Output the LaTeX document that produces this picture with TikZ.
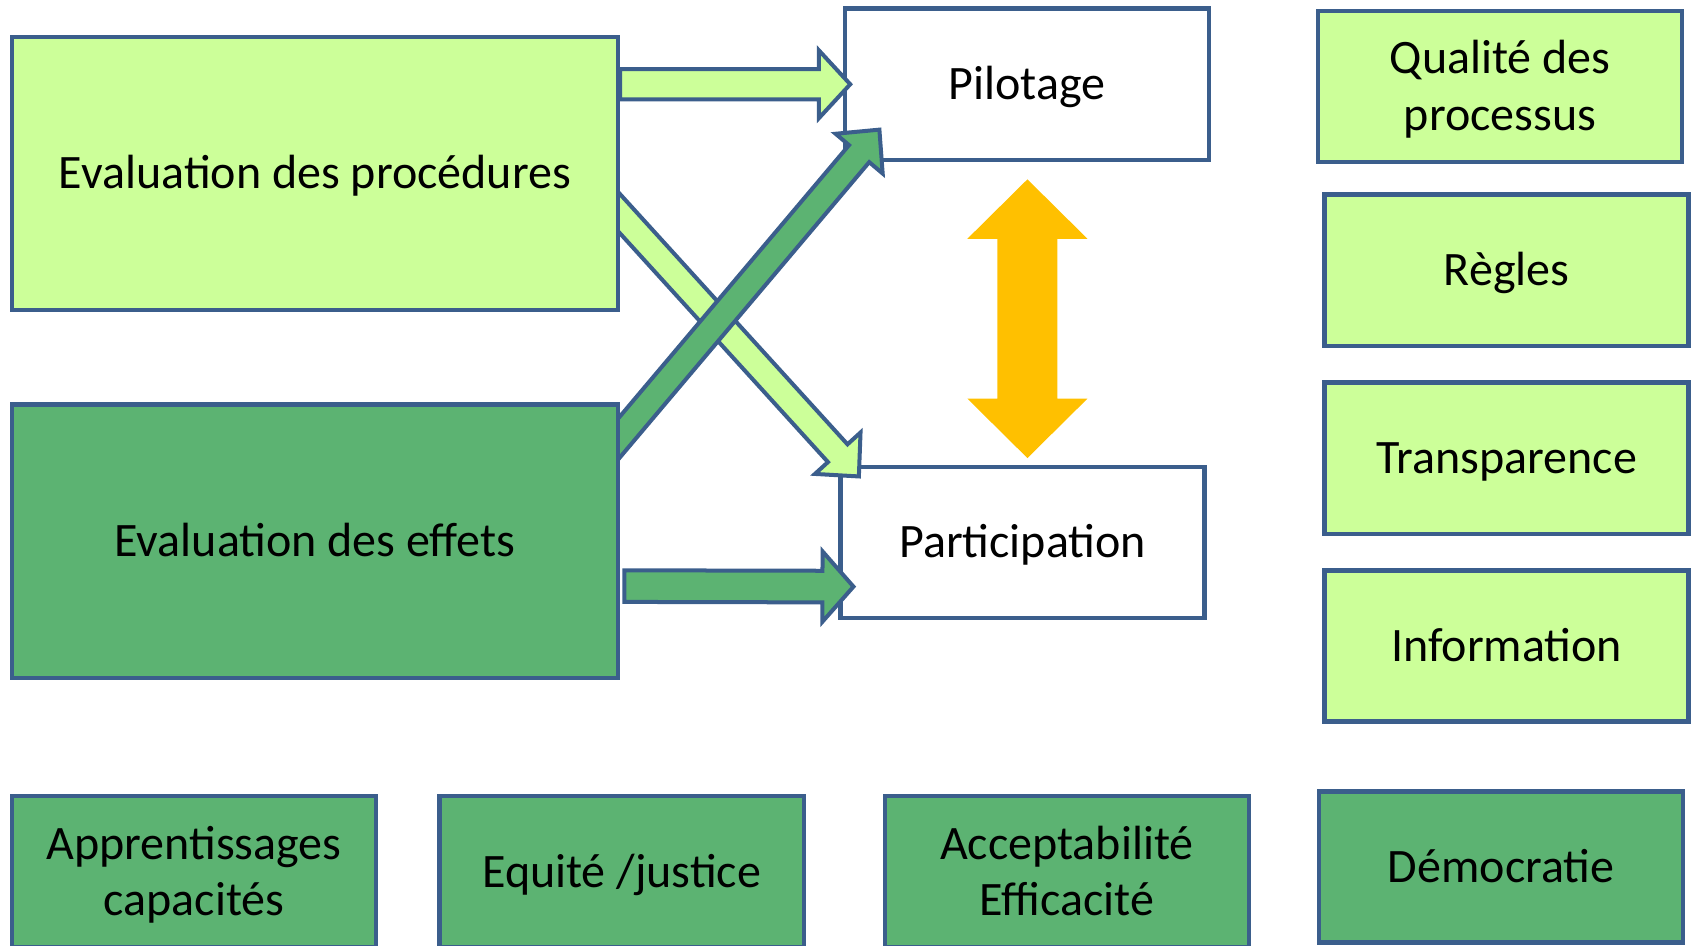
\documentclass[tikz,border=0pt]{standalone}
\usepackage{fontspec}
\setmainfont{Carlito}
\usetikzlibrary{calc}
\usetikzlibrary{positioning}
\pgfdeclarelayer{back}
\pgfsetlayers{back,main}

\definecolor{edgeblue}{RGB}{59,94,140}
\definecolor{palegreen}{RGB}{204,255,153}
\definecolor{deepgreen}{RGB}{92,179,114}
\definecolor{amber}{RGB}{255,192,0}

\tikzset{
  box/.style={draw=edgeblue, line width=2.2pt, outer sep=0pt, inner sep=0pt,
    minimum width=182pt, minimum height=75.6pt, align=center,
    text height=20.4pt, text depth=5pt,
    font=\fontsize{24}{28.2}\selectfont},
  twolines/.style={text height=48.6pt},
  bigbox/.style={box, minimum width=302.9pt, minimum height=136.6pt},
  pale/.style={fill=palegreen},
  deep/.style={fill=deepgreen},
  blank/.style={fill=white},
  arrowline/.style={draw=edgeblue, line width=2pt, line join=miter}
}

% tail, tip, fill, shaft half width, head half width, head length
\newcommand{\blockarrow}[6]{%
  \coordinate (ba) at ($(#2)!#6!(#1)$);
  \draw[arrowline, fill=#3] ($(#1)!#4!90:(#2)$) -- ($(ba)!#4!-90:(#1)$)
    -- ($(ba)!#5!-90:(#1)$) -- (#2) -- ($(ba)!#5!90:(#1)$)
    -- ($(ba)!#4!90:(#1)$) -- ($(#1)!#4!-90:(#2)$) -- cycle;
}
% end, end, fill, shaft half width, head half width, head length
\newcommand{\twinarrow}[6]{%
  \coordinate (ta) at ($(#1)!#6!(#2)$);
  \coordinate (tb) at ($(#2)!#6!(#1)$);
  \fill[#3] (#1) -- ($(ta)!#5!90:(#2)$) -- ($(ta)!#4!90:(#2)$)
    -- ($(tb)!#4!-90:(#1)$) -- ($(tb)!#5!-90:(#1)$) -- (#2)
    -- ($(tb)!#5!90:(#1)$) -- ($(tb)!#4!90:(#1)$)
    -- ($(ta)!#4!-90:(#2)$) -- ($(ta)!#5!-90:(#2)$) -- cycle;
}

\begin{document}
\begin{tikzpicture}[x=0.54pt, y=-0.54pt]
  \useasboundingbox (0,0) rectangle (1568,875);

  \node[bigbox, pale] (proc) at (291.5,160.5) {Evaluation des procédures};
  \node[bigbox, deep] (effets) at (291.5,501) {Evaluation des effets};

  \node[box, pale, twolines] (qualite) at (1388.5,80) {Qualité des\\processus};
  \node[box, pale] (regles) at (1394.5,250) {Règles};
  \node[box, pale] (transp) at (1394.5,424) {Transparence};
  \node[box, pale] (info) at (1394.5,598) {Information};

  \node[box, deep, twolines] (appr) at (179.5,807) {Apprentissages\\capacités};
  \node[box, deep] (equite) at (575.5,807) {Equité /justice};
  \node[box, deep, twolines] (accept) at (987.5,807) {Acceptabilité\\Efficacité};
  \node[box, deep] (demo) at (1389.5,802.5) {Démocratie};

  \begin{pgfonlayer}{back}
    \node[box, blank] (pilot) at (950.5,78) {Pilotage};
    \node[box, blank] (partic) at (946.5,502) {Participation};

    \coordinate (a1) at ($(proc.north east)+(2,44)$);
    \coordinate (b1) at ($(pilot.west)+(5,0)$);
    \coordinate (a2) at ($(effets.north east)+(6,168)$);
    \coordinate (b2) at ($(partic.west)+(12,41)$);
    \coordinate (a3) at ($(proc.east)+(-32,0)$);
    \coordinate (b3) at ($(partic.north west)+(17,9)$);
    \coordinate (a4) at ($(effets.north east)+(-32,70)$);
    \coordinate (b4) at ($(pilot.south west)+(32,-28)$);
    \coordinate (a5) at ($(pilot.south)+(0.5,18)$);
    \coordinate (b5) at ($(a5 |- partic.north)+(0,-8)$);

    \blockarrow{a1}{b1}{palegreen}{7.6pt}{17pt}{15.7pt}
    \blockarrow{a2}{b2}{deepgreen}{7.9pt}{17.6pt}{15.5pt}
    \blockarrow{a3}{b3}{palegreen}{6.6pt}{15.4pt}{15.7pt}
    \blockarrow{a4}{b4}{deepgreen}{6.6pt}{15.4pt}{15.7pt}
    \twinarrow{a5}{b5}{amber}{15pt}{30pt}{29.7pt}
  \end{pgfonlayer}
\end{tikzpicture}
\end{document}
